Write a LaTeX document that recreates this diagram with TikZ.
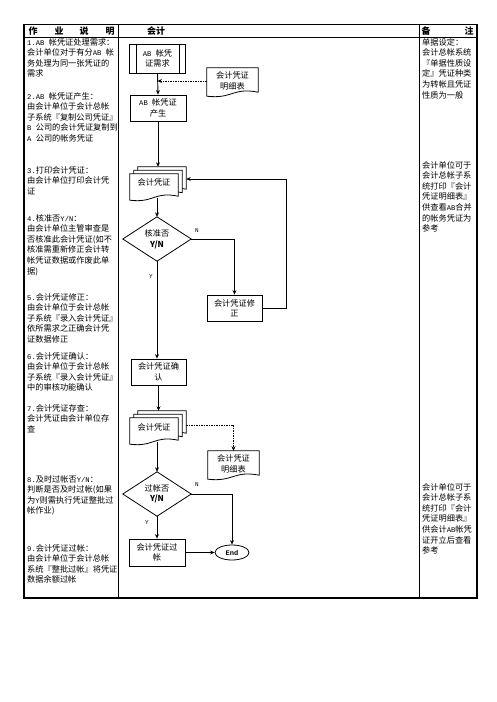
\documentclass[tikz,border=0pt]{standalone}
\usepackage{fontspec}
\setmainfont{Noto Sans CJK SC}
\newfontfamily\heiti{Noto Sans CJK SC}
\newfontfamily\monofam{Liberation Mono}
\usetikzlibrary{arrows.meta,shapes.geometric,calc}
\newcommand{\lat}[1]{{\monofam\fontsize{7.2}{10.6}\selectfont #1}}
\newcommand{\docpath}[1]{(#1.north west) -- (#1.north east) -- ($(#1.south east)+(0,-2)$) .. controls ($(#1.south)+(0,-7)$) and ($(#1.south)+(0,5)$) .. ($(#1.south west)+(0,2)$) -- cycle}
\tikzset{
  txt/.style={anchor=north west, inner sep=0pt, align=left, font=\fontsize{8.2}{10.6}\selectfont},
  hdr/.style={inner sep=0pt, font=\heiti\bfseries\fontsize{9}{10}\selectfont},
  proc/.style={draw, line width=0.8pt, rectangle, inner sep=0pt, minimum width=56, minimum height=27, align=center, font=\fontsize{8.2}{10.6}\selectfont},
  docbox/.style={inner sep=0pt, minimum width=48, minimum height=24, align=center, font=\fontsize{8.2}{10.6}\selectfont},
  dia/.style={inner sep=0pt, minimum width=68, minimum height=44, align=center, font=\fontsize{8.2}{10.6}\selectfont},
  arr/.style={-{Stealth[length=4.5pt,width=4pt]}, line width=0.9pt},
  dots/.style={-{Stealth[length=4.5pt,width=4pt]}, line width=0.7pt, dash pattern=on 1.5pt off 1pt},
  lbl/.style={inner sep=0pt, font=\monofam\fontsize{6}{7}\selectfont},
}
\begin{document}
\begin{tikzpicture}[x=1pt,y=-1pt]
\useasboundingbox (0,0) rectangle (496,702);
\fill[white] (0,0) rectangle (496,702);
% table
\draw[line width=1.2pt] (24,24.5) rectangle (477,598);
\draw[line width=1pt] (24,37) -- (477,37);
\draw[line width=1pt] (118,24.5) -- (118,598);
\draw[line width=1pt] (419,24.5) -- (419,598);
% header
\node[hdr] (h1) at (33,31) {作};
\node[hdr] (h2) at (59,31) {业};
\node[hdr] (h3) at (84,31) {说};
\node[hdr] (h4) at (110,31) {明};
\node[hdr] (h5) at (156,31) {会计};
\node[hdr] (h6) at (426,31) {备};
\node[hdr] (h7) at (469,31) {注};
% left column
\node[txt] (d1) at (27,38) {\lat{1.AB }帐凭证处理需求：\\会计单位对于有分\lat{AB }帐\\务处理为同一张凭证的\\需求};
\node[txt] (d2) at (27,92) {\lat{2.AB }帐凭证产生：\\由会计单位于会计总帐\\子系统『复制公司凭证』\\\lat{B }公司的会计凭证复制到\\\lat{A }公司的帐务凭证};
\node[txt] (d3) at (27,166) {\lat{3.}打印会计凭证：\\由会计单位打印会计凭\\证};
\node[txt] (d4) at (27,214) {\lat{4.}核准否\lat{Y/N}：\\由会计单位主管审查是\\否核准此会计凭证(如不\\核准需重新修正会计转\\帐凭证数据或作废此单\\据)};
\node[txt] (d5) at (27,293) {\lat{5.}会计凭证修正：\\由会计单位于会计总帐\\子系统『录入会计凭证』\\依所需求之正确会计凭\\证数据修正};
\node[txt] (d6) at (27,352) {\lat{6.}会计凭证确认：\\由会计单位于会计总帐\\子系统『录入会计凭证』\\中的审核功能确认};
\node[txt] (d7) at (27,404) {\lat{7.}会计凭证存查：\\会计凭证由会计单位存\\查};
\node[txt] (d8) at (27,475) {\lat{8.}及时过帐否\lat{Y/N}：\\判断是否及时过帐(如果\\为\lat{Y}则需执行凭证整批过\\帐作业)};
\node[txt] (d9) at (27,544) {\lat{9.}会计凭证过帐：\\由会计单位于会计总帐\\系统『整批过帐』将凭证\\数据余额过帐};
% right column
\node[txt] (r1) at (422,38) {单据设定：\\会计总帐系统\\『单据性质设\\定』凭证种类\\为转帐且凭证\\性质为一般};
\node[txt] (r2) at (422,161) {会计单位可于\\会计总帐子系\\统打印『会计\\凭证明细表』\\供查看\lat{AB}合并\\的帐务凭证为\\参考};
\node[txt] (r3) at (422,483) {会计单位可于\\会计总帐子系\\统打印『会计\\凭证明细表』\\供会计\lat{AB}帐凭\\证开立后查看\\参考};
% flowchart
\node[proc, minimum height=29] (n1) at (157.5,58.5) {\lat{AB }帐凭\\证需求};
\draw[line width=0.8pt] ($(n1.north)+(-21.5,0)$) -- ($(n1.south)+(-21.5,0)$);
\draw[line width=0.8pt] ($(n1.north)+(21.5,0)$) -- ($(n1.south)+(21.5,0)$);
\node[proc, minimum height=26] (n2) at (158,108) {\lat{AB }帐凭证\\产生};
\node[docbox, minimum width=51, minimum height=26] (doc1) at (232.5,81) {会计凭证\\明细表};
\draw[line width=0.8pt] \docpath{doc1};
\draw[arr] (n1.south) -- (n2.north);
\draw[dots] (doc1.west) -- (doc1.west -| n1.south);
% stack 1
\node[docbox] (s1c) at (162,179) {};
\node[docbox] (s1b) at (158,182.5) {};
\node[docbox] (s1) at (154,186) {};
\draw[line width=0.8pt, fill=white] \docpath{s1c};
\draw[line width=0.8pt, fill=white] \docpath{s1b};
\draw[line width=0.8pt, fill=white] \docpath{s1};
\node[docbox] (s1t) at (154,182) {会计凭证};
\draw[arr] (n2.south) -- (n2.south |- s1c.north);
% diamond 1
\node[dia] (dm1) at (157,239) {核准否\\{\bfseries Y/N}};
\draw[line width=0.8pt] (dm1.north) -- (dm1.east) -- (dm1.south) -- (dm1.west) -- cycle;
\draw[arr] (dm1.north |- s1.south) -- (dm1.north);
\node[lbl] (ln1) at (197,231) {N};
\node[proc, minimum width=55, minimum height=26] (fix) at (234.5,308) {会计凭证修\\正};
\draw[arr] (dm1.east) -| (fix.north);
\draw[arr] (fix.east) -- ++(24,0) |- (s1c.east);
\node[lbl] (ly1) at (151,277) {Y};
\node[proc, minimum width=55, minimum height=26] (conf) at (158.5,372) {会计凭证确\\认};
\draw[arr] (dm1.south) -- (dm1.south |- conf.north);
% stack 2
\node[docbox] (s2c) at (162,423) {};
\node[docbox] (s2b) at (158,426.5) {};
\node[docbox] (s2) at (154,430) {};
\draw[line width=0.8pt, fill=white] \docpath{s2c};
\draw[line width=0.8pt, fill=white] \docpath{s2b};
\draw[line width=0.8pt, fill=white] \docpath{s2};
\node[docbox] (s2t) at (154,427) {会计凭证};
\draw[arr] (conf.south) -- (conf.south |- s2c.north);
\node[docbox, minimum width=51, minimum height=26] (doc2) at (233.5,464) {会计凭证\\明细表};
\draw[line width=0.8pt] \docpath{doc2};
\draw[dots] ($(s2c.east)+(0,2)$) -| (doc2.north);
% diamond 2
\node[dia] (dm2) at (157,494) {过帐否\\{\bfseries Y/N}};
\draw[line width=0.8pt] (dm2.north) -- (dm2.east) -- (dm2.south) -- (dm2.west) -- cycle;
\draw[arr] (dm2.north |- s2.south) -- (dm2.north);
\node[lbl] (ln2) at (197,485) {N};
\node[lbl] (ly2) at (147,523) {Y};
\node[proc, minimum height=27] (post) at (157,552.5) {会计凭证过\\帐};
\draw[arr] (dm2.south) -- (post.north);
\node[draw, line width=0.8pt, ellipse, minimum width=34, minimum height=15, inner sep=0pt, font=\monofam\bfseries\fontsize{7}{8}\selectfont] (end) at (232,552.5) {End};
\draw[arr] (dm2.east) -| (end.north);
\draw[arr] (post.east) -- (end.west);
\end{tikzpicture}
\end{document}
